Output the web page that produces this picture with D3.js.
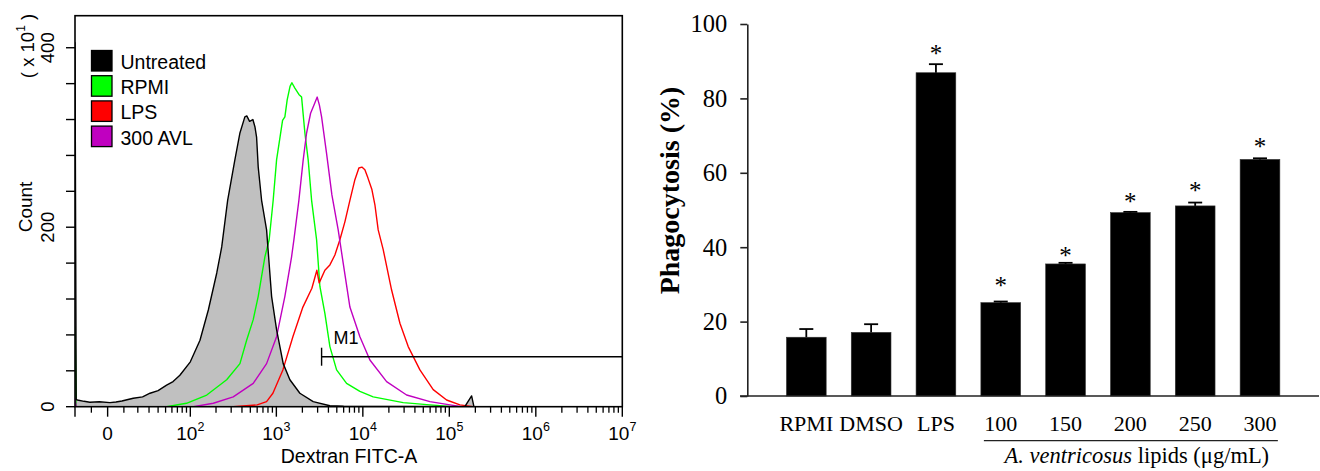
<!DOCTYPE html>
<html><head><meta charset="utf-8">
<script src="https://cdn.jsdelivr.net/npm/d3@7"></script>
<style>body{margin:0;background:#fff}svg{display:block}</style>
</head><body>
<svg id="c" width="1320" height="471"></svg>
<script>
// ---------- LEFT: histogram data [fluorescence, count] ----------
const untreated = [[-22,406],[-21,8],[-20,7.5],[-15,6],[-11,5],[-5,5.5],[1.4,4.5],[5,5.2],[8.7,6.4],[16.5,9.4],[24,11],[31,15],[40,18],[51.5,24],[62,28],[75,35],[100,50],[130,74],[163,108],[204,149],[233,178],[273,230],[331,275],[379,305],[432,323],[455,324],[490,318],[535,320],[565,312],[591,300],[617,267],[675,230],[771,197],[881,123],[1006,86],[1200,48],[1434,30],[1871,15],[2667,5.6],[4159,1],[6000,0.5],[151000,0],[181000,12],[192500,0]];
const rpmi = [[-22,89],[-21,0],[51.5,0],[90,3.8],[156,13],[266,30],[379,48],[453,74],[540,97],[617,123],[737,167],[826,186],[919,230],[1006,275],[1180,319],[1255,323],[1334,342],[1440,357],[1512,361],[1638,355],[1822,348],[1958,345],[2138,305],[2334,275],[2556,230],[2919,186],[3188,134],[3641,104],[4159,67],[4972,41],[6488,26],[9247,17],[13180,11],[29300,4.5],[59650,2],[101600,0.4],[130000,0]];
const lps = [[317,0],[600,2],[771,5.6],[912,15],[1190,41],[1553,78],[2027,111],[2576,132],[2942,152],[3128,138],[3641,152],[4159,158],[4753,169],[5428,186],[6200,206],[7086,230],[8095,253],[9004,266],[9752,267],[10560,264],[11440,255],[12730,242],[13790,225],[15050,197],[17200,175],[21510,130],[26840,93],[33460,67],[45700,41],[65130,19],[93030,7.5],[132600,2],[188900,0]];
const avl300 = [[-22,10],[-21,0],[109,0],[186,3.8],[317,11],[540,26],[771,48],[1006,78],[1255,123],[1500,167],[1595,186],[1822,230],[2044,275],[2237,305],[2488,327],[2717,336],[2967,345],[3146,336],[3335,323],[3810,282],[4387,236],[5189,197],[5928,160],[7086,111],[9247,78],[12070,52],[18830,28],[32080,13],[59650,5.6],[101600,2],[139800,0]];

const legendLabels = ["Untreated","RPMI","LPS","300 AVL"];
const legendColors = ["#000000","#00ff00","#ff0000","#c000c0"];
const countTicks = [0,40,80,120,160,200,240,280,320,360,400];
const countLabelValues = [0,200,400];
const xMajorTicks = [-22,0,1e2,1e3,1e4,1e5,1e6,1e7];
const xMinorTicks = [-10,10,20,30,40,50,60,70,80,90,
  200,300,400,500,600,700,800,900,2000,3000,4000,5000,6000,7000,8000,9000,
  2e4,3e4,4e4,5e4,6e4,7e4,8e4,9e4,2e5,3e5,4e5,5e5,6e5,7e5,8e5,9e5,2e6,3e6,4e6,5e6,6e6,7e6,8e6,9e6];
const xLabelValues = [0,1e2,1e3,1e4,1e5,1e6,1e7];
const xLabelBases = ["0","10","10","10","10","10","10"];
const xLabelExps = ["","2","3","4","5","6","7"];
const m1Start = 3335, m1End = 1e7, m1Level = 55.7;

// ---------- RIGHT: bar chart data ----------
const categories = ["RPMI","DMSO","LPS","100","150","200","250","300"];
const phagocytosis = [15.8,17.1,86.9,25.1,35.5,49.3,51.1,63.6];
const errors = [2.2,2.2,2.3,0.3,0.3,0.2,0.9,0.3];
const starValues = [null,null,93.0,30.5,38.6,53.0,56.0,67.9];
const yTicks = [0,20,40,60,80,100];
const groupCats = ["100","150","200","250","300"];

const svg = d3.select("#c");
const SANS = "'Liberation Sans', Arial, sans-serif";
const SERIF = "'Liberation Serif', 'Times New Roman', serif";

// ===== LEFT PANEL =====
const W = 22.4;
const T = v => Math.asinh(v / W) / Math.LN10;
const xLin = d3.scaleLinear().domain([T(-22), T(1e7)]).range([75, 622.3]);
const x = v => xLin(T(v));
const yC = d3.scaleLinear().domain([0, 435.7]).range([406.7, 15.7]);

const L = svg.append("g");
L.append("clipPath").attr("id","clipL").append("rect")
  .attr("x",75).attr("y",15.7).attr("width",547.3).attr("height",391);
const plot = L.append("g").attr("clip-path","url(#clipL)");

plot.append("path").datum(untreated)
  .attr("d", d3.area().x(d=>x(d[0])).y0(yC(0)).y1(d=>yC(d[1])))
  .attr("fill","#c0c0c0");
const line = d3.line().x(d=>x(d[0])).y(d=>yC(d[1]));
[[rpmi,legendColors[1]],[lps,legendColors[2]],[avl300,legendColors[3]],[untreated,"#000"]].forEach(([d,c])=>{
  plot.append("path").datum(d).attr("d",line).attr("fill","none")
    .attr("stroke",c).attr("stroke-width",1.4).attr("stroke-linejoin","round");
});

// M1 marker
const m1y = yC(m1Level);
L.append("line").attr("x1",x(m1Start)).attr("x2",x(m1End)).attr("y1",m1y).attr("y2",m1y)
  .attr("stroke","#000").attr("stroke-width",1.4);
L.append("line").attr("x1",x(m1Start)).attr("x2",x(m1Start)).attr("y1",m1y-9).attr("y2",m1y+9)
  .attr("stroke","#000").attr("stroke-width",1.4);
L.append("text").attr("x",x(m1Start)+12).attr("y",m1y-13).text("M1")
  .attr("font-family",SANS).attr("font-size",18);

// frame
L.append("rect").attr("x",75).attr("y",15.7).attr("width",547.3).attr("height",391)
  .attr("fill","none").attr("stroke","#000").attr("stroke-width",1.6);

// y ticks
L.selectAll(".yt").data(countTicks).join("line")
  .attr("x1",66).attr("x2",75).attr("y1",d=>yC(d)).attr("y2",d=>yC(d))
  .attr("stroke","#000").attr("stroke-width",1.4);
L.selectAll(".yl").data(countLabelValues).join("text")
  .attr("transform",d=>`translate(47,${yC(d)}) rotate(-90)`)
  .attr("text-anchor","middle").attr("dy","0.36em")
  .attr("font-family",SANS).attr("font-size",18.5).text(d=>d);
L.append("text").attr("transform","translate(25,207) rotate(-90)")
  .attr("text-anchor","middle").attr("dy","0.36em")
  .attr("font-family",SANS).attr("font-size",19).text("Count");
const sc = L.append("text").attr("transform","translate(27,46) rotate(-90)")
  .attr("text-anchor","middle").attr("dy","0.36em")
  .attr("font-family",SANS).attr("font-size",18.5);
sc.append("tspan").text("( x 10");
sc.append("tspan").attr("font-size",12).attr("dy","-0.75em").text("1");
sc.append("tspan").attr("dy","0.5em").text(" )");

// x ticks
L.selectAll(".xM").data(xMajorTicks).join("line")
  .attr("x1",d=>x(d)).attr("x2",d=>x(d)).attr("y1",406.7).attr("y2",416.7)
  .attr("stroke","#000").attr("stroke-width",1.4);
L.selectAll(".xm").data(xMinorTicks).join("line")
  .attr("x1",d=>x(d)).attr("x2",d=>x(d)).attr("y1",406.7).attr("y2",412.7)
  .attr("stroke","#000").attr("stroke-width",1.3);
xLabelValues.forEach((v,i)=>{
  const t = L.append("text").attr("x",x(v)).attr("y",440).attr("text-anchor","middle")
    .attr("font-family",SANS).attr("font-size",19);
  t.append("tspan").text(xLabelBases[i]);
  if (xLabelExps[i]) t.append("tspan").attr("font-size",12.5).attr("dy","-0.75em").text(xLabelExps[i]);
});
L.append("text").attr("x",349).attr("y",463).attr("text-anchor","middle")
  .attr("font-family",SANS).attr("font-size",19.5).text("Dextran FITC-A");

// legend
legendLabels.forEach((lab,i)=>{
  L.append("rect").attr("x",91.5).attr("y",50.5+25.2*i).attr("width",20.5).attr("height",20.5)
    .attr("fill",legendColors[i]).attr("stroke","#000").attr("stroke-width",1.3);
  L.append("text").attr("x",120.5).attr("y",69+25.2*i).attr("font-family",SANS)
    .attr("font-size",19.5).text(lab);
});

// ===== RIGHT PANEL =====
const R = svg.append("g");
const xb = d3.scaleBand().domain(categories).range([747.3,1319]).paddingInner(0.387).paddingOuter(0.604);
const yb = d3.scaleLinear().domain([0,100]).range([396,24]);

R.selectAll(".bar").data(categories).join("rect")
  .attr("x",d=>xb(d)).attr("width",xb.bandwidth())
  .attr("y",(d,i)=>yb(phagocytosis[i])).attr("height",(d,i)=>yb(0)-yb(phagocytosis[i]))
  .attr("fill","#000").attr("stroke","#333").attr("stroke-width",0.6);

categories.forEach((c,i)=>{
  const cx = xb(c)+xb.bandwidth()/2;
  const top = yb(phagocytosis[i]+errors[i]);
  R.append("line").attr("x1",cx).attr("x2",cx).attr("y1",yb(phagocytosis[i])).attr("y2",top)
    .attr("stroke","#000").attr("stroke-width",1.8);
  R.append("line").attr("x1",cx-7).attr("x2",cx+7).attr("y1",top).attr("y2",top)
    .attr("stroke","#000").attr("stroke-width",1.8);
  if (starValues[i] != null) {
    R.append("text").attr("x",cx).attr("y",yb(starValues[i])+11.5).attr("text-anchor","middle")
      .attr("font-family",SERIF).attr("font-size",25).attr("fill","#000").text("*");
  }
  R.append("text").attr("x",cx).attr("y",431).attr("text-anchor","middle")
    .attr("font-family",SERIF).attr("font-size",22).attr("fill","#000").text(c);
});

const yAxis = R.append("g").attr("transform","translate(747.3,0)")
  .call(d3.axisLeft(yb).tickValues(yTicks).tickSize(7).tickSizeOuter(0).tickPadding(13));
yAxis.selectAll("text").attr("font-family",SERIF).attr("font-size",24.5).attr("fill","#000");
yAxis.selectAll("line,path").attr("stroke","#222").attr("stroke-width",1.6);
R.append("line").attr("x1",740).attr("x2",1319).attr("y1",396).attr("y2",396)
  .attr("stroke","#222").attr("stroke-width",1.6);

R.append("text").attr("transform","translate(669,190.5) rotate(-90)")
  .attr("text-anchor","middle").attr("dy","0.35em")
  .attr("font-family",SERIF).attr("font-weight","bold").attr("font-size",28)
  .text("Phagocytosis (%)");

const gx0 = xb(groupCats[0])+3, gx1 = xb(groupCats[groupCats.length-1])+xb.bandwidth()-2;
R.append("line").attr("x1",gx0).attr("x2",gx1).attr("y1",440.7).attr("y2",440.7)
  .attr("stroke","#222").attr("stroke-width",1.3);
const gl = R.append("text").attr("x",(gx0+gx1)/2+6).attr("y",463).attr("text-anchor","middle")
  .attr("font-family",SERIF).attr("font-size",22.5);
gl.append("tspan").attr("font-style","italic").text("A. ventricosus");
gl.append("tspan").text(" lipids (μg/mL)");
</script>
</body></html>
